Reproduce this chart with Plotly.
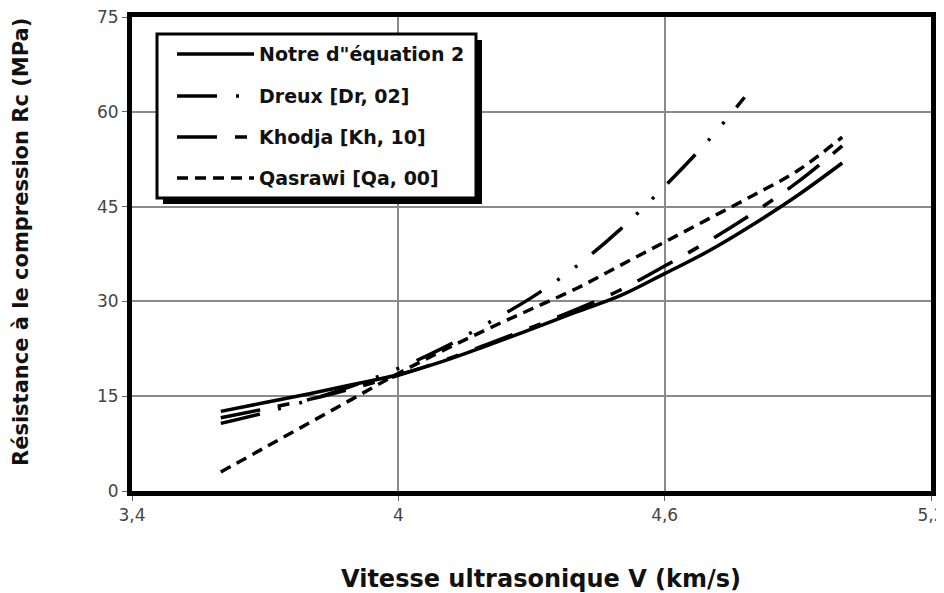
import plotly.graph_objects as go

# values
v = [3.6, 3.7, 3.8, 3.9, 4.0, 4.1, 4.2, 4.3, 4.4, 4.5, 4.6, 4.7, 4.8, 4.9, 5.0]
notre = [12.6, 14.0, 15.4, 16.9, 18.4, 20.5, 23.0, 25.6, 28.3, 30.9, 34.4, 38.0, 42.2, 46.8, 51.9]
khodja = [11.6, 13.0, 14.5, 16.3, 18.3, 20.6, 23.2, 25.9, 28.7, 31.8, 35.6, 39.6, 44.0, 48.9, 54.6]
qasrawi = [3.0, 6.9, 10.8, 14.7, 18.6, 22.2, 25.6, 28.8, 32.0, 35.7, 39.4, 43.1, 46.8, 50.7, 56.0]
v_dreux = [3.6, 3.7, 3.8, 3.9, 4.0, 4.1, 4.2, 4.3, 4.4, 4.5, 4.6, 4.7, 4.78]
dreux = [10.7, 12.4, 14.4, 16.7, 19.4, 22.6, 26.5, 30.6, 35.5, 41.4, 48.2, 55.6, 62.3]

x_ticks = [3.4, 4.0, 4.6, 5.2]
x_labels = ["3,4", "4", "4,6", "5,2"]
y_ticks = [0, 15, 30, 45, 60, 75]

names = ["Notre d\"équation 2", "Dreux [Dr, 02]", "Khodja [Kh, 10]", "Qasrawi [Qa, 00]"]
dashes = ["solid", "40px,19px,3px,19px,3px,19px", "40px,18px,12px,18px", "11px,7px"]

fig = go.Figure()
series = [(v, notre), (v_dreux, dreux), (v, khodja), (v, qasrawi)]
for (xs, ys), nm, ds in zip(series, names, dashes):
    fig.add_trace(go.Scatter(x=xs, y=ys, name=nm, mode="lines", line_shape="spline",
                             line=dict(color="black", width=3.5, dash=ds)))

FONT = "DejaVu Sans, Liberation Sans, Arial, sans-serif"
# page body adds ~8px offset; plot area sits at window 132..931 x 17..491
fig.update_layout(
    width=936, height=585,
    margin=dict(l=124, r=13, t=9, b=102),
    plot_bgcolor="white", paper_bgcolor="white",
    showlegend=False,
    font=dict(family=FONT, color="#444"),
)
fig.update_xaxes(range=[3.4, 5.2], tickvals=x_ticks, ticktext=x_labels,
                 showgrid=True, gridcolor="#8a8a8a", gridwidth=1.5,
                 showline=True, linecolor="black", linewidth=5, mirror=True,
                 ticks="outside", ticklen=5, tickcolor="#666",
                 tickfont=dict(size=17, color="#444"), automargin=False,
                 ticklabeloverflow="allow", zeroline=False)
fig.update_yaxes(range=[0, 75], tickvals=y_ticks,
                 showgrid=True, gridcolor="#8a8a8a", gridwidth=1.5,
                 showline=True, linecolor="black", linewidth=5, mirror=True,
                 ticks="outside", ticklen=5, tickcolor="#666",
                 tickfont=dict(size=17, color="#444"), automargin=False,
                 ticklabeloverflow="allow", zeroline=False)

# window pixel -> paper coordinates
def px_x(p):
    return (p - 132) / 799.0

def px_y(p):
    return (491 - p) / 474.0

# axis titles
fig.add_annotation(text="Vitesse ultrasonique V (km/s)", xref="paper", yref="paper",
                   x=px_x(541), y=px_y(579), xanchor="center", yanchor="middle",
                   showarrow=False, font=dict(size=24, color="#111", weight="bold"))
fig.add_annotation(text="Résistance à le compression Rc (MPa)", xref="paper", yref="paper",
                   x=px_x(21), y=px_y(242), xanchor="center", yanchor="middle",
                   textangle=-90, showarrow=False,
                   font=dict(size=21, color="#111", weight="bold"))

# hand-drawn legend box with shadow
fig.add_shape(type="rect", xref="paper", yref="paper",
              x0=px_x(163), x1=px_x(482), y0=px_y(204), y1=px_y(40),
              fillcolor="black", line=dict(width=0))
fig.add_shape(type="rect", xref="paper", yref="paper",
              x0=px_x(157), x1=px_x(476), y0=px_y(198), y1=px_y(34),
              fillcolor="white", line=dict(color="black", width=3))
rows = [54, 96, 137, 178]
for nm, ds, r in zip(names, dashes, rows):
    fig.add_shape(type="line", xref="paper", yref="paper",
                  x0=px_x(177), x1=px_x(254), y0=px_y(r), y1=px_y(r),
                  line=dict(color="black", width=3.5, dash=ds))
    fig.add_annotation(text=nm, xref="paper", yref="paper", x=px_x(257), y=px_y(r),
                       xanchor="left", yanchor="middle", showarrow=False,
                       font=dict(size=19, color="#111", weight="bold"))

fig.write_html("out.html")
